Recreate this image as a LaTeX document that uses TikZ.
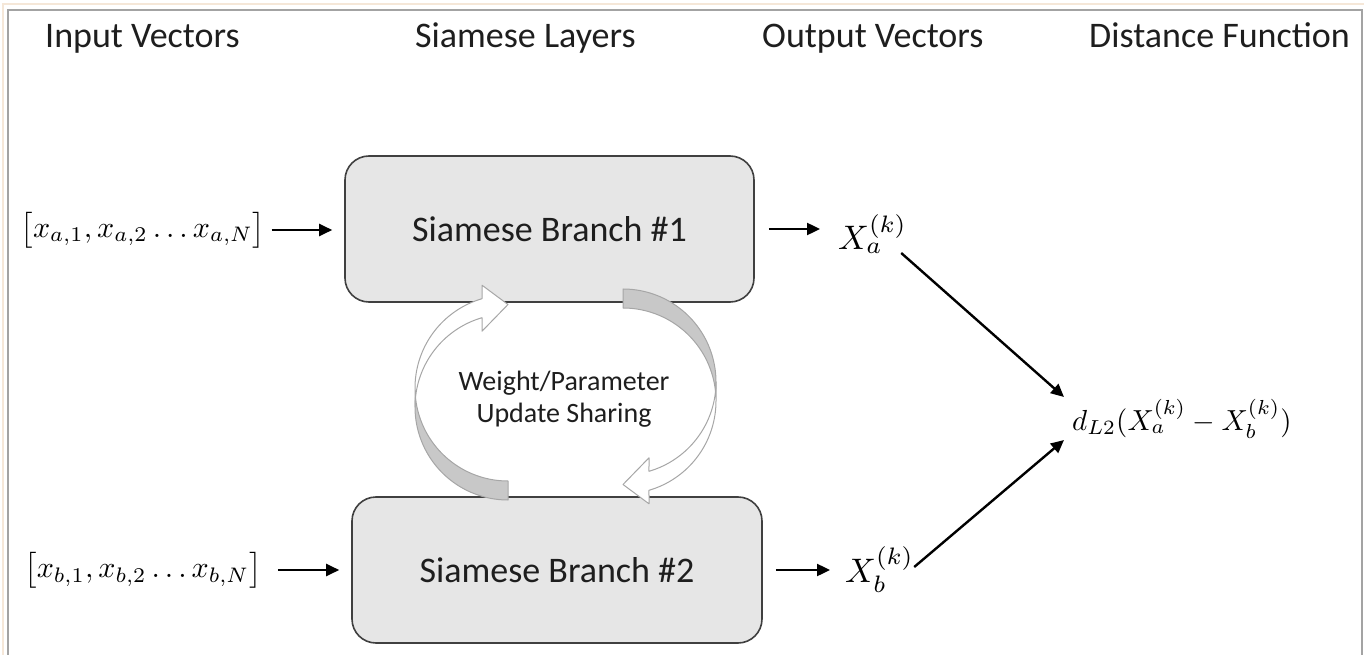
\documentclass[tikz,border=0pt]{standalone}
\usepackage{fontspec}
\setmainfont{Carlito}
\usetikzlibrary{arrows.meta,calc}

\definecolor{boxfill}{HTML}{E6E6E6}
\definecolor{boxline}{HTML}{404040}
\definecolor{frameline}{HTML}{A3A3A3}
\definecolor{frameouter}{HTML}{F5E7D8}
\definecolor{ribbonline}{HTML}{A6A6A6}
\definecolor{ribbonback}{HTML}{C8C8C8}
\definecolor{ink}{HTML}{1E1E1E}

% math set at 10pt and enlarged
\newcommand{\bigmath}[2]{\scalebox{#1}{$#2$}}

% One curved ribbon arrow (shaded back strip, white front strip with head).
% Lower circle: centre (508,407); upper circle: centre (508,388); radius 93.
\newcommand{\ribbonarrow}{%
  \filldraw[ribbonstyle, fill=ribbonback]
    plot[domain=90:185.863] ({508+93*cos(\x)},{407+93*sin(\x)})
    -- plot[domain=174.137:90] ({508+93*cos(\x)},{388+93*sin(\x)})
    -- cycle;
  \filldraw[ribbonstyle, fill=white]
    plot[domain=180:253.77] ({508+93*cos(\x)},{407+93*sin(\x)})
    -- (482,331.2) -- (508,304.5) -- (482,285.2)
    -- plot[domain=253.77:180] ({508+93*cos(\x)},{388+93*sin(\x)})
    -- cycle;
}

\begin{document}
\begin{tikzpicture}[x=1pt,y=-1pt,
  header/.style={font=\fontsize{36}{40}\selectfont, anchor=base west, inner sep=0pt, text=ink},
  branch/.style={draw=boxline, fill=boxfill, line width=1.6pt, rounded corners=24pt,
    inner sep=0pt, font=\fontsize{36}{40}\selectfont, text=ink},
  mathlbl/.style={inner sep=0pt},
  outlbl/.style={inner sep=0pt, anchor=base west},
  flow/.style={line width=2.4pt, -{Triangle[length=13pt,width=12pt]}},
  ribbonstyle/.style={draw=ribbonline, line width=1pt, line join=round, samples=50},
  sharetext/.style={align=center, font=\fontsize{28}{32}\selectfont, text=ink, inner sep=0pt}
]
\useasboundingbox (0,0) rectangle (1369,655);

% page frame
\draw[frameouter, line width=1.2pt] (3,655) -- (3,4) -- (1364,4);
\draw[frameline, line width=1.5pt] (8,655) -- (8,10) -- (1362,10) -- (1362,655);

% column headers
\node[header] (hIn)   at (45,48)   {Input Vectors};
\node[header] (hSL)   at (415,48)  {Siamese Layers};
\node[header] (hOut)  at (762,48)  {Output Vectors};
\node[header] (hDist) at (1089,48) {Distance Function};

% siamese branches
\node[branch, minimum width=409pt, minimum height=146pt] (b1) at (549.5,229) {Siamese Branch \#1};
\node[branch, minimum width=410pt, minimum height=146pt] (b2) at (557,570) {Siamese Branch \#2};

% weight sharing cycle
\ribbonarrow
\begin{scope}[rotate around={180:(565.5,394.5)}]
  \ribbonarrow
\end{scope}
\node[sharetext] (share) at (564,399) {Weight/Parameter\\Update Sharing};

% inputs and outputs
\node[mathlbl] (ina) at (143,230) {\bigmath{3.0}{\bigl[x_{a,1}, x_{a,2} \ldots x_{a,N}\bigr]}};
\node[mathlbl] (inb) at (143,570) {\bigmath{3.0}{\bigl[x_{b,1}, x_{b,2} \ldots x_{b,N}\bigr]}};
\node[outlbl] (Xa) at (838,250) {\bigmath{3.4}{X_a^{(k)}}};
\node[outlbl] (Xb) at (845,582) {\bigmath{3.4}{X_b^{(k)}}};
\node[outlbl] (dist) at (1072,430) {\bigmath{2.9}{d_{L2}(X_a^{(k)} - X_b^{(k)})}};

% connectors
\draw[flow, shorten <=6pt, shorten >=12pt] (ina.east) -- (ina.east -| b1.west);
\draw[flow, shorten <=16pt, shorten >=12pt] (inb.east) -- (inb.east -| b2.west);
\draw[flow, shorten <=14pt, shorten >=18pt] (b1.east) -- (b1.east -| Xa.west);
\draw[flow, shorten <=13pt, shorten >=15pt] (b2.east) -- (b2.east -| Xb.west);
\draw[flow] ($(Xa.base east)+(-6,3)$) -- ($(dist.base west)+(-8,-33)$);
\draw[flow] ($(Xb.base east)+(0,-15)$) -- ($(dist.base west)+(-8,10)$);
\end{tikzpicture}
\end{document}
